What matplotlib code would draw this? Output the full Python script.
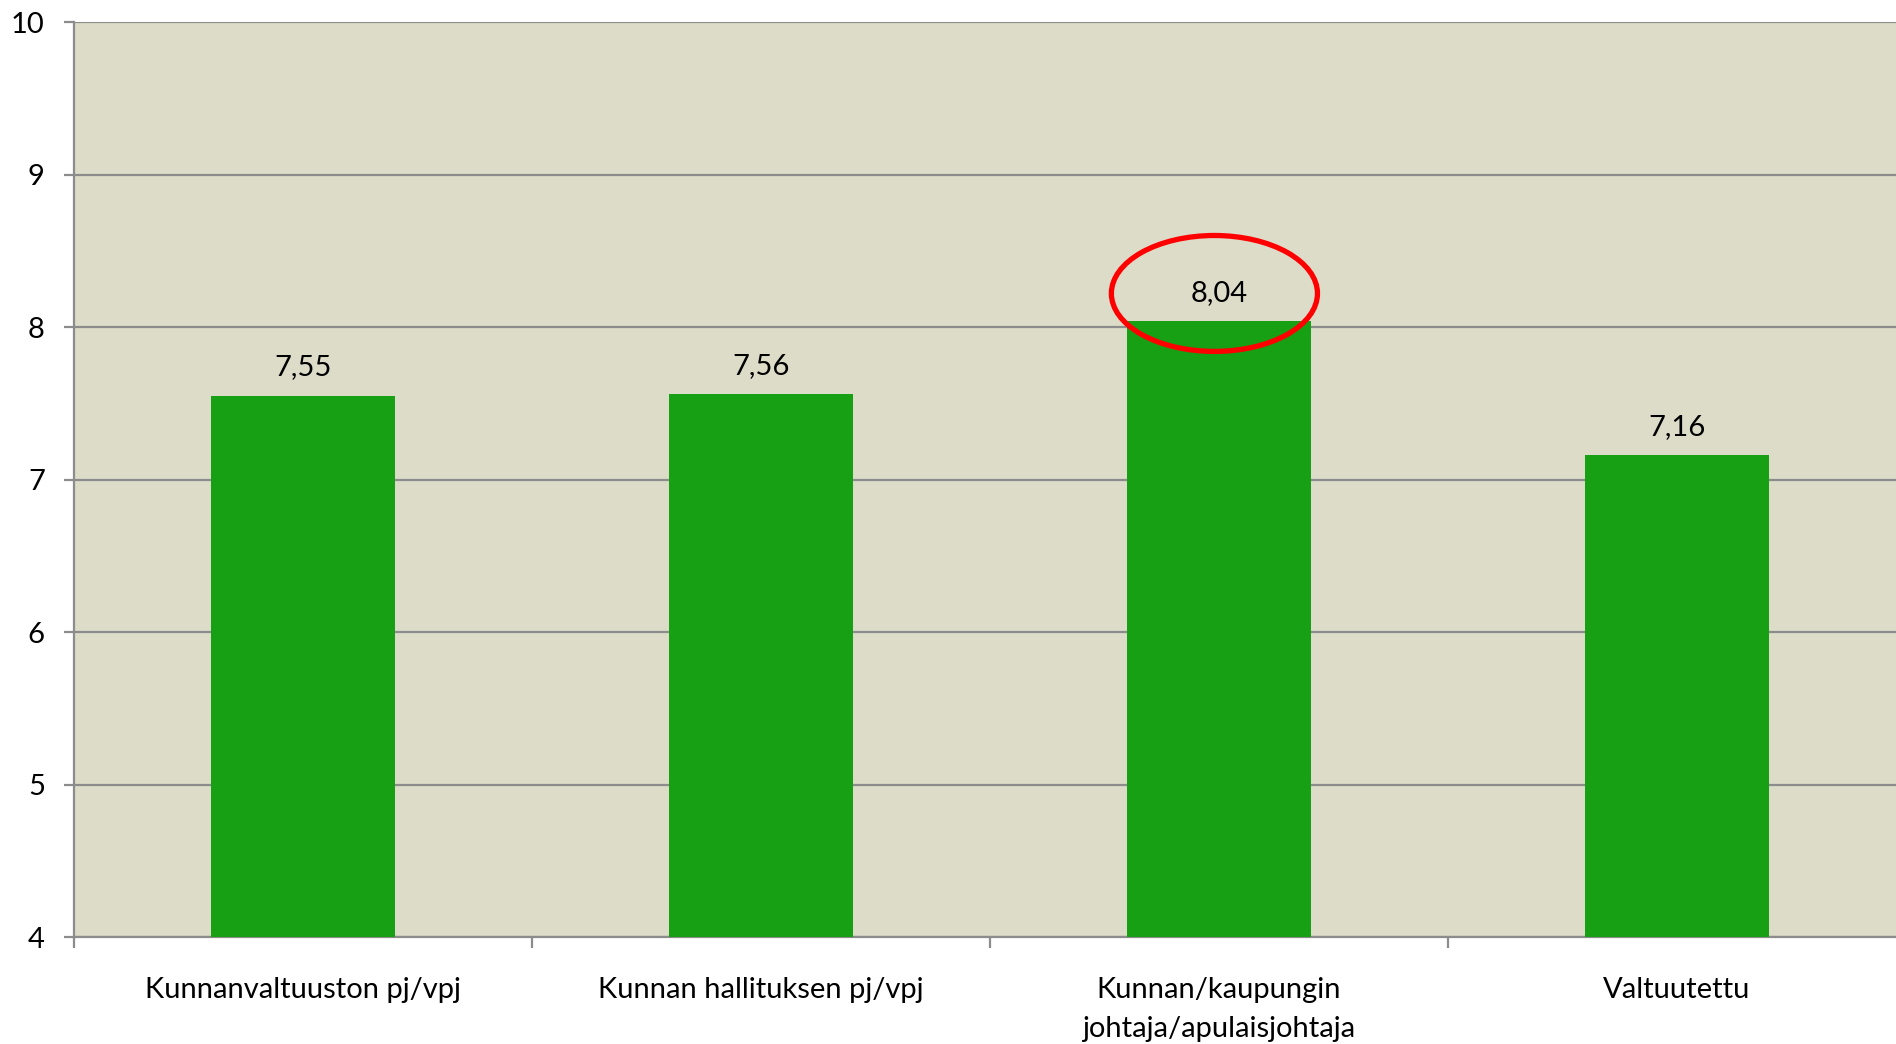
import matplotlib
matplotlib.use("Agg")
from matplotlib import pyplot as plt
from matplotlib.patches import Ellipse
import numpy as np

categories = ["Kunnanvaltuuston pj/vpj", "Kunnan hallituksen pj/vpj",
              "Kunnan/kaupungin\njohtaja/apulaisjohtaja", "Valtuutettu"]
values = [7.55, 7.56, 8.04, 7.16]
value_labels = ["7,55", "7,56", "8,04", "7,16"]
highlight = 2

plt.rcParams['font.family'] = ['Lato', 'DejaVu Sans']

fig = plt.figure(figsize=(18.96, 10.44), dpi=100)
# axes runs a little past the right edge, like the original slide
ax = fig.add_axes([74 / 1896, 1 - 937 / 1044, 1832 / 1896, 915 / 1044])

bg = "#dcdcc9"
grid_col = "#8c8c8c"
ax.set_facecolor(bg)

x = np.arange(len(categories))
ax.bar(x, values, width=0.4, bottom=0, color="#18a015", zorder=3)

for xi, v, lab in zip(x, values, value_labels):
    ax.text(xi, v + 0.1, lab, ha="center", va="bottom", fontsize=21, zorder=4)

ax.set_ylim(4, 10)
ax.set_xlim(-0.5, len(categories) - 0.5)
ax.set_yticks(range(4, 11))
ax.yaxis.grid(True, color=grid_col, linewidth=1.6, zorder=1)

ax.set_xticks(x)
ax.set_xticklabels(categories, fontsize=21, linespacing=1.6)
ax.set_xticks(np.arange(-0.5, len(categories)), minor=True)
ax.tick_params(axis="x", which="major", length=0, pad=29)
ax.tick_params(axis="x", which="minor", length=8, width=1.6, color=grid_col)
ax.tick_params(axis="y", length=7, width=1.6, color=grid_col, pad=14, labelsize=21)

for s in ["top", "right"]:
    ax.spines[s].set_visible(False)
for s in ["left", "bottom"]:
    ax.spines[s].set_color(grid_col)
    ax.spines[s].set_linewidth(1.6)

# red circle around the highest value
ell = Ellipse((highlight - 0.01, values[highlight] + 0.18), width=0.45, height=0.76,
              fill=False, edgecolor="#ff0000", linewidth=3.8, zorder=5)
ax.add_patch(ell)

fig.savefig("out.png", dpi=100, facecolor="white")
